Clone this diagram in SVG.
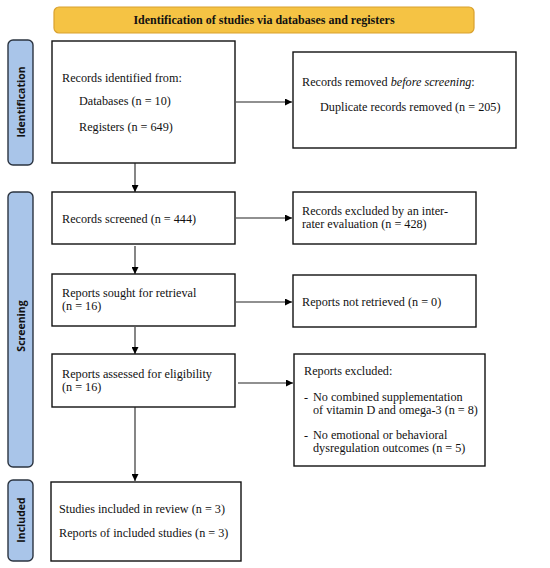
<svg xmlns="http://www.w3.org/2000/svg" width="550" height="568" viewBox="0 0 550 568">
<defs>
<marker id="ah" viewBox="0 0 10 10" refX="10" refY="5" markerWidth="7" markerHeight="7" markerUnits="userSpaceOnUse" orient="auto">
<path d="M0,0 L10,5 L0,10 z" fill="#000"/>
</marker>
<style>
.box{fill:#fff;stroke:#111;stroke-width:1.4}
.side{fill:#A9C5E9;stroke:#2B3440;stroke-width:1.4}
.t{font-family:"Liberation Serif",serif;font-size:12.2px;fill:#111}
.st{font-family:"Open Sans","DejaVu Sans",sans-serif;font-size:10.5px;font-weight:bold;fill:#111}
.ln{stroke:#222;stroke-width:1.1;fill:none;marker-end:url(#ah)}
</style>
</defs>
<rect width="550" height="568" fill="#fff"/>
<g id="banner">
<rect x="54" y="7" width="420" height="26" rx="5" fill="#F5C344" stroke="#D9A12E" stroke-width="1.2"/>
<text x="264" y="24" text-anchor="middle" font-family="Liberation Serif,serif" font-weight="bold" font-size="12" fill="#111">Identification of studies via databases and registers</text>
</g>
<g id="label-identification">
<rect class="side" x="8" y="40" width="25" height="125" rx="5"/>
<text class="st" transform="translate(24.5,102) rotate(-90)" text-anchor="middle">Identification</text>
</g>
<g id="label-screening">
<rect class="side" x="8" y="192" width="25" height="275" rx="5"/>
<text class="st" transform="translate(24.5,326) rotate(-90)" text-anchor="middle">Screening</text>
</g>
<g id="label-included">
<rect class="side" x="8" y="480" width="25" height="81" rx="5"/>
<text class="st" transform="translate(24.5,520) rotate(-90)" text-anchor="middle">Included</text>
</g>
<g id="records-identified">
<rect class="box" x="52" y="41" width="183" height="122"/>
<text class="t" x="62" y="82">Records identified from:</text>
<text class="t" x="79" y="105">Databases (n = 10)</text>
<text class="t" x="79" y="131">Registers (n = 649)</text>
</g>
<g id="records-removed">
<rect class="box" x="293" y="52" width="223" height="96"/>
<text class="t" x="302" y="86">Records removed <tspan font-style="italic">before screening</tspan>:</text>
<text class="t" x="320" y="111">Duplicate records removed (n = 205)</text>
</g>
<g id="records-screened">
<rect class="box" x="52" y="192" width="183" height="52"/>
<text class="t" x="62" y="223">Records screened (n = 444)</text>
</g>
<g id="records-excluded">
<rect class="box" x="293" y="192" width="183" height="52"/>
<text class="t" x="302" y="215">Records excluded by an inter-</text>
<text class="t" x="302" y="228">rater evaluation (n = 428)</text>
</g>
<g id="reports-sought">
<rect class="box" x="52" y="274" width="183" height="52"/>
<text class="t" x="62" y="297">Reports sought for retrieval</text>
<text class="t" x="62" y="310">(n = 16)</text>
</g>
<g id="reports-not-retrieved">
<rect class="box" x="293" y="275" width="183" height="52"/>
<text class="t" x="302" y="306">Reports not retrieved (n = 0)</text>
</g>
<g id="reports-assessed">
<rect class="box" x="52" y="354" width="183" height="53"/>
<text class="t" x="62" y="378">Reports assessed for eligibility</text>
<text class="t" x="62" y="391">(n = 16)</text>
</g>
<g id="reports-excluded">
<rect class="box" x="294" y="354" width="191" height="112"/>
<text class="t" x="304" y="375">Reports excluded:</text>
<text class="t" x="304" y="401">-</text>
<text class="t" x="313" y="401">No combined supplementation</text>
<text class="t" x="313" y="413.5">of vitamin D and omega-3 (n = 8)</text>
<text class="t" x="304" y="439">-</text>
<text class="t" x="313" y="439">No emotional or behavioral</text>
<text class="t" x="313" y="451.5">dysregulation outcomes (n = 5)</text>
</g>
<g id="studies-included">
<rect class="box" x="51" y="482" width="190" height="79"/>
<text class="t" x="59" y="513">Studies included in review (n = 3)</text>
<text class="t" x="59" y="537">Reports of included studies (n = 3)</text>
</g>
<g id="connectors">
<line class="ln" x1="236" y1="102" x2="292" y2="102"/>
<line class="ln" x1="135" y1="163" x2="135" y2="192"/>
<line class="ln" x1="236" y1="218" x2="292" y2="218"/>
<line class="ln" x1="135" y1="246" x2="135" y2="274"/>
<line class="ln" x1="236" y1="302" x2="292" y2="302"/>
<line class="ln" x1="135" y1="327" x2="135" y2="354"/>
<line class="ln" x1="238" y1="383" x2="293" y2="383"/>
<line class="ln" x1="135" y1="407" x2="135" y2="481"/>
</g>
</svg>
